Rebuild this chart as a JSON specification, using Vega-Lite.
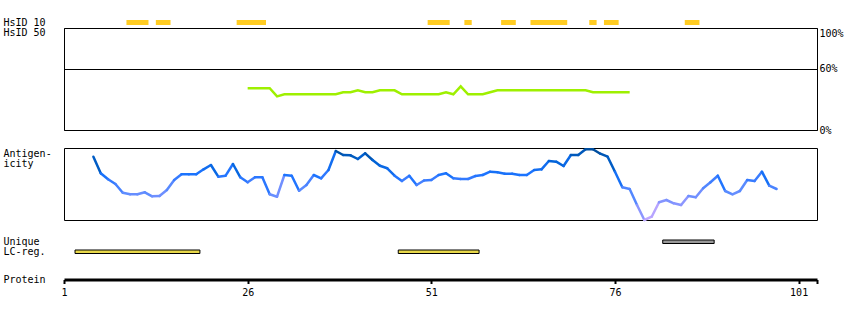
{
  "$schema": "https://vega.github.io/schema/vega-lite/v6.json",
  "padding": {"left": 2, "top": 17, "right": 4, "bottom": 4},
  "background": "white",
  "bounds": "flush",
  "spacing": 0,
  "config": {
    "view": {"stroke": null},
    "font": "DejaVu Sans Mono",
    "axis": {"labelFont": "DejaVu Sans Mono", "labelFontSize": 10, "labelColor": "black", "titleFont": "DejaVu Sans Mono", "titleFontSize": 10, "titleFontWeight": "normal", "titleColor": "black"}
  },
  "datasets": {
    "hsid": [
      {"track": "HsID 10", "start": 9.5, "end": 12.5},
      {"track": "HsID 10", "start": 13.5, "end": 15.5},
      {"track": "HsID 10", "start": 24.5, "end": 28.5},
      {"track": "HsID 10", "start": 50.5, "end": 53.5},
      {"track": "HsID 10", "start": 55.5, "end": 56.5},
      {"track": "HsID 10", "start": 60.5, "end": 62.5},
      {"track": "HsID 10", "start": 64.5, "end": 69.5},
      {"track": "HsID 10", "start": 72.5, "end": 73.5},
      {"track": "HsID 10", "start": 74.5, "end": 76.5},
      {"track": "HsID 10", "start": 85.5, "end": 87.5}
    ],
    "hsid50": [
      {"pos": 26, "pct": 40.9}, {"pos": 29, "pct": 40.9}, {"pos": 30, "pct": 33}, {"pos": 31, "pct": 35},
      {"pos": 38, "pct": 35}, {"pos": 39, "pct": 37}, {"pos": 40, "pct": 37}, {"pos": 41, "pct": 38.9},
      {"pos": 42, "pct": 37}, {"pos": 43, "pct": 37}, {"pos": 44, "pct": 38.9}, {"pos": 46, "pct": 38.9},
      {"pos": 47, "pct": 35}, {"pos": 52, "pct": 35}, {"pos": 53, "pct": 37}, {"pos": 54, "pct": 35},
      {"pos": 55, "pct": 42.8}, {"pos": 56, "pct": 35}, {"pos": 58, "pct": 35}, {"pos": 59, "pct": 37},
      {"pos": 60, "pct": 38.9}, {"pos": 72, "pct": 38.9}, {"pos": 73, "pct": 37}, {"pos": 78, "pct": 37}
    ],
    "antigen": [
      {"pos": 5, "val": 63.3}, {"pos": 6, "val": 46.7}, {"pos": 7, "val": 40.7}, {"pos": 8, "val": 36},
      {"pos": 9, "val": 27.3}, {"pos": 10, "val": 25.7}, {"pos": 11, "val": 25.7}, {"pos": 12, "val": 27.7},
      {"pos": 13, "val": 23.7}, {"pos": 14, "val": 24}, {"pos": 15, "val": 30}, {"pos": 16, "val": 40},
      {"pos": 17, "val": 45.7}, {"pos": 18, "val": 45.7}, {"pos": 19, "val": 45.7}, {"pos": 20, "val": 50.7},
      {"pos": 21, "val": 55}, {"pos": 22, "val": 43.3}, {"pos": 23, "val": 44.3}, {"pos": 24, "val": 56},
      {"pos": 25, "val": 42.7}, {"pos": 26, "val": 37.7}, {"pos": 27, "val": 42.7}, {"pos": 28, "val": 42.7},
      {"pos": 29, "val": 25.7}, {"pos": 30, "val": 23.3}, {"pos": 31, "val": 45}, {"pos": 32, "val": 44.3},
      {"pos": 33, "val": 29.3}, {"pos": 34, "val": 35}, {"pos": 35, "val": 45}, {"pos": 36, "val": 41.7},
      {"pos": 37, "val": 50}, {"pos": 38, "val": 69}, {"pos": 39, "val": 65}, {"pos": 40, "val": 64.7},
      {"pos": 41, "val": 61}, {"pos": 42, "val": 66.7}, {"pos": 43, "val": 60}, {"pos": 44, "val": 54.3},
      {"pos": 45, "val": 51.7}, {"pos": 46, "val": 44.3}, {"pos": 47, "val": 39}, {"pos": 48, "val": 44.3},
      {"pos": 49, "val": 35}, {"pos": 50, "val": 39.5}, {"pos": 51, "val": 40}, {"pos": 52, "val": 45},
      {"pos": 53, "val": 46.7}, {"pos": 54, "val": 41.7}, {"pos": 55, "val": 41}, {"pos": 56, "val": 41},
      {"pos": 57, "val": 44}, {"pos": 58, "val": 45}, {"pos": 59, "val": 48.3}, {"pos": 60, "val": 47.7},
      {"pos": 61, "val": 46.3}, {"pos": 62, "val": 46.3}, {"pos": 63, "val": 45}, {"pos": 64, "val": 45},
      {"pos": 65, "val": 50}, {"pos": 66, "val": 50.7}, {"pos": 67, "val": 59}, {"pos": 68, "val": 58.3},
      {"pos": 69, "val": 54}, {"pos": 70, "val": 65}, {"pos": 71, "val": 65}, {"pos": 72, "val": 70.7},
      {"pos": 73, "val": 70.7}, {"pos": 74, "val": 66.3}, {"pos": 75, "val": 63.3}, {"pos": 76, "val": 48.3},
      {"pos": 77, "val": 32.7}, {"pos": 78, "val": 31}, {"pos": 79, "val": 15}, {"pos": 80, "val": 0},
      {"pos": 81, "val": 3.3}, {"pos": 82, "val": 17.7}, {"pos": 83, "val": 20}, {"pos": 84, "val": 16.7},
      {"pos": 85, "val": 15}, {"pos": 86, "val": 24}, {"pos": 87, "val": 22.7}, {"pos": 88, "val": 31.7},
      {"pos": 89, "val": 37.7}, {"pos": 90, "val": 44.3}, {"pos": 91, "val": 29}, {"pos": 92, "val": 25.7},
      {"pos": 93, "val": 29}, {"pos": 94, "val": 40}, {"pos": 95, "val": 39}, {"pos": 96, "val": 48.3},
      {"pos": 97, "val": 34.3}, {"pos": 98, "val": 31}
    ],
    "lc": [
      {"row": "LC-reg.", "start": 2.5, "end": 19.5},
      {"row": "LC-reg.", "start": 46.5, "end": 57.5},
      {"row": "Unique", "start": 82.5, "end": 89.5}
    ]
  },
  "vconcat": [
    {
      "width": 753, "height": 11,
      "data": {"name": "hsid"},
      "mark": {"type": "bar", "color": "#ffcc22"},
      "encoding": {
        "x": {"field": "start", "type": "quantitative", "scale": {"domain": [1, 103.5], "nice": false, "zero": false}, "axis": null},
        "x2": {"field": "end"},
        "y": {"field": "track", "type": "nominal", "scale": {"domain": ["HsID 10"], "paddingInner": 0, "paddingOuter": 0.6},
          "axis": {"title": null, "labelAlign": "left", "labelPadding": 61, "ticks": false, "tickSize": 0, "domain": false, "labelBaseline": "middle"}}
      }
    },
    {
      "width": 753, "height": 102,
      "view": {"stroke": "black", "strokeWidth": 1},
      "data": {"name": "hsid50"},
      "mark": {"type": "line", "color": "#9ef000", "strokeWidth": 2.5},
      "encoding": {
        "x": {"field": "pos", "type": "quantitative", "scale": {"domain": [1, 103.5], "nice": false, "zero": false}, "axis": null},
        "y": {"field": "pct", "type": "quantitative", "scale": {"domain": [0, 100], "nice": false},
          "axis": {"orient": "right", "values": [0, 60, 100], "labelExpr": "datum.value + '%'", "ticks": false, "tickSize": 0, "domain": false,
            "grid": true, "gridColor": "black", "gridOpacity": 1, "gridWidth": 1, "labelPadding": 2,
            "labelBaseline": {"condition": {"test": "datum.value == 100", "value": "top"}, "value": "middle"},
            "title": "HsID 50", "titleAngle": 0, "titleAlign": "left", "titleBaseline": "middle", "titleX": -814, "titleY": 4.5}}
      }
    },
    {
      "width": 753, "height": 18,
      "data": {"values": [{"a": 0}]},
      "mark": {"type": "point", "opacity": 0},
      "encoding": {}
    },
    {
      "width": 753, "height": 72,
      "view": {"stroke": "black", "strokeWidth": 1},
      "data": {"name": "antigen"},
      "transform": [
        {"window": [{"op": "lead", "field": "pos", "as": "pos2"}, {"op": "lead", "field": "val", "as": "val2"}], "sort": [{"field": "pos"}]},
        {"filter": "datum.pos2 != null"}
      ],
      "mark": {"type": "rule", "strokeWidth": 2.5, "strokeCap": "round"},
      "encoding": {
        "x": {"field": "pos", "type": "quantitative", "scale": {"domain": [1, 103.5], "nice": false, "zero": false}, "axis": null},
        "x2": {"field": "pos2"},
        "y": {"field": "val", "type": "quantitative", "scale": {"domain": [0, 72], "nice": false, "zero": false},
          "axis": {"labels": false, "ticks": false, "domain": false, "grid": false,
            "title": ["Antigen-", "icity"], "titleAngle": 0, "titleAlign": "left", "titleBaseline": "top", "titleX": -61, "titleY": 0.7, "titleLineHeight": 10}},
        "y2": {"field": "val2"},
        "color": {"field": "val", "type": "quantitative",
          "scale": {"domain": [0, 15, 28, 45, 60, 72], "range": ["#c0a8ff", "#8c96ff", "#5c8cff", "#1c74ff", "#0062d6", "#004c99"]}, "legend": null}
      }
    },
    {
      "width": 753, "height": 33.5,
      "data": {"name": "lc"},
      "mark": {"type": "bar", "stroke": "black", "strokeWidth": 1},
      "encoding": {
        "x": {"field": "start", "type": "quantitative", "scale": {"domain": [1, 103.5], "nice": false, "zero": false},
          "axis": {"orient": "bottom", "offset": 26, "values": [1, 26, 51, 76, 101, 103.5], "labelExpr": "datum.value > 102 ? '' : datum.label",
            "labelFlush": false, "labelOverlap": false, "domainWidth": 3, "domainColor": "black", "tickColor": "black", "tickWidth": 2, "tickSize": 4,
            "labelPadding": 4, "grid": false, "title": null}},
        "x2": {"field": "end"},
        "y": {"field": "row", "type": "nominal", "scale": {"domain": ["Unique", "LC-reg."], "paddingInner": 0.65, "paddingOuter": 1, "align": 1},
          "axis": {"labelAlign": "left", "labelPadding": 61, "ticks": false, "tickSize": 0, "domain": false, "labelBaseline": "middle",
            "title": "Protein", "titleAngle": 0, "titleAlign": "left", "titleBaseline": "middle", "titleX": -61, "titleY": 59.5}},
        "color": {"field": "row", "type": "nominal", "scale": {"domain": ["Unique", "LC-reg."], "range": ["#999999", "#e8d84a"]}, "legend": null}
      }
    }
  ]
}
